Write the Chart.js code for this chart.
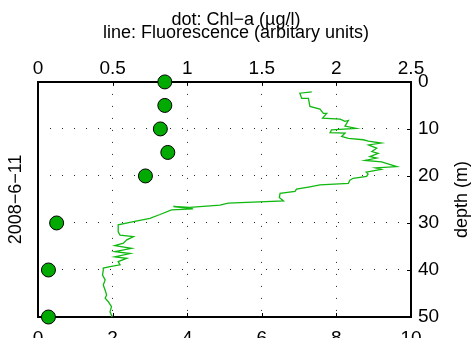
<!DOCTYPE html>
<html><head><meta charset="utf-8">
<script src="https://cdn.jsdelivr.net/npm/chart.js@4.4.1/dist/chart.umd.min.js"></script>
<style>html,body{margin:0;padding:0;background:#fff;}canvas{display:block;}</style>
</head><body>
<canvas id="c" width="472" height="338"></canvas>
<script>
const titleLines = ['dot: Chl\u2212a (\u00b5g/l)', 'line: Fluorescence (arbitary units)'];
const dateLabel = '2008\u22126\u221211';
const depthLabel = 'depth (m)';

const chlTicks = [0, 0.5, 1, 1.5, 2, 2.5];
const chlTickLabels = ['0', '0.5', '1', '1.5', '2', '2.5'];
const fluoTicks = [0, 2, 4, 6, 8, 10];
const depthTicks = [0, 10, 20, 30, 40, 50];

const chlDepth = [0, 5, 10, 15, 20, 30, 40, 50];
const chlValue = [0.85, 0.85, 0.82, 0.87, 0.72, 0.125, 0.07, 0.07];

const fluoDepth = [2.1, 2.4, 3.5, 3.5, 5.2, 5.8, 6.7, 6.7, 7.7, 7.9, 8.4, 8.2, 9.4, 9.9, 10.2, 10.8, 10.9, 11.6, 12.0, 12.3, 12.6, 13.0, 13.4, 14.1, 14.8, 15.2, 15.9, 16.2, 16.7, 17.0, 18.0, 18.3, 18.6, 19.2, 19.6, 20.1, 20.5, 20.9, 21.6, 21.9, 22.3, 22.8, 23.3, 23.7, 24.6, 25.3, 25.8, 26.2, 26.7, 26.5, 27.0, 27.2, 28.2, 29.0, 29.7, 30.4, 31.9, 32.6, 32.9, 33.6, 34.3, 34.8, 35.4, 36.1, 36.5, 37.2, 37.5, 38.2, 38.9, 39.3, 39.6, 40.0, 41.1, 42.1, 43.2, 44.3, 45.3, 46.0, 46.7, 47.8, 48.9, 49.6, 50.0];
const fluoValue = [7.34, 7.02, 7.07, 7.25, 7.29, 7.56, 7.65, 7.74, 7.63, 8.10, 8.23, 8.32, 8.23, 8.53, 7.87, 7.83, 8.23, 8.14, 8.32, 8.72, 8.86, 9.20, 8.86, 9.08, 8.95, 9.12, 8.90, 9.08, 8.77, 9.21, 9.62, 9.05, 9.20, 8.80, 8.85, 8.81, 8.45, 8.36, 8.32, 7.56, 7.29, 6.93, 6.89, 6.49, 6.47, 6.58, 5.10, 4.88, 4.07, 3.63, 4.16, 3.58, 3.27, 3.00, 2.56, 2.15, 2.15, 2.20, 2.56, 2.38, 2.29, 2.06, 2.51, 2.06, 2.47, 2.06, 2.38, 2.15, 2.20, 1.93, 1.75, 1.75, 1.73, 1.80, 1.75, 1.80, 1.84, 1.80, 1.88, 1.97, 1.93, 1.97, 1.98];

const FONT = '"Liberation Sans", Arial, Helvetica, sans-serif';
const tickFont = {family: FONT, size: 19};
const gridColor = (ctx) => {
  const v = ctx.tick && ctx.tick.value;
  const s = ctx.scale;
  return (v === s.min || v === s.max) ? 'rgba(0,0,0,0)' : 'rgba(0,0,0,0.85)';
};
const setTicks = (arr) => (s) => { s.ticks = arr.map(v => ({value: v})); };

const innerTicks = {
  id: 'innerTicks',
  afterDraw(chart) {
    const {ctx, chartArea: a, scales} = chart;
    const L = 4;
    ctx.save();
    ctx.strokeStyle = '#000';
    ctx.lineWidth = 1;
    ctx.beginPath();
    scales.x.ticks.forEach(t => {
      const px = Math.round(scales.x.getPixelForValue(t.value)) + 0.5;
      ctx.moveTo(px, a.bottom); ctx.lineTo(px, a.bottom - L);
    });
    scales.x2.ticks.forEach(t => {
      const px = Math.round(scales.x2.getPixelForValue(t.value)) + 0.5;
      ctx.moveTo(px, a.top); ctx.lineTo(px, a.top + L);
    });
    scales.y.ticks.forEach(t => {
      const py = Math.round(scales.y.getPixelForValue(t.value)) + 0.5;
      ctx.moveTo(a.right, py); ctx.lineTo(a.right - L, py);
    });
    ctx.stroke();
    ctx.translate(chart.width - 10, (a.top + a.bottom) / 2);
    ctx.rotate(-Math.PI / 2);
    ctx.font = '18px ' + FONT;
    ctx.textAlign = 'center';
    ctx.textBaseline = 'middle';
    ctx.fillStyle = '#000';
    ctx.fillText(depthLabel, 0, 0);
    ctx.restore();
  }
};

new Chart(document.getElementById('c'), {
  type: 'scatter',
  data: {
    datasets: [
      {
        label: 'Chl-a',
        data: chlDepth.map((d, i) => ({x: chlValue[i], y: d})),
        xAxisID: 'x2', yAxisID: 'y',
        pointRadius: 7, pointHoverRadius: 7,
        backgroundColor: '#00aa00', borderColor: '#000', borderWidth: 1,
        clip: false, showLine: false, order: 0
      },
      {
        label: 'Fluorescence',
        data: fluoDepth.map((d, i) => ({x: fluoValue[i], y: d})),
        xAxisID: 'x', yAxisID: 'y',
        showLine: true, pointRadius: 0, borderColor: '#10b810', borderWidth: 1.3,
        tension: 0, order: 1
      }
    ]
  },
  options: {
    responsive: false,
    animation: false,
    devicePixelRatio: 1,
    layout: {padding: 0},
    plugins: {
      legend: {display: false},
      tooltip: {enabled: false},
      title: {
        display: true,
        text: titleLines,
        color: '#000',
        font: {family: FONT, size: 18, weight: 'normal', lineHeight: 0.72},
        padding: {top: 14, bottom: 0}
      }
    },
    scales: {
      x: {
        type: 'linear', position: 'bottom', min: 0, max: 10,
        afterBuildTicks: setTicks(fluoTicks),
        ticks: {font: tickFont, color: '#000', padding: 10, autoSkip: false, maxRotation: 0},
        grid: {color: gridColor, lineWidth: 1, drawTicks: false},
        border: {color: '#000', width: 2, dash: [1, 11]},
        afterFit: s => { s.height = 21; }
      },
      x2: {
        type: 'linear', position: 'top', min: 0, max: 2.5,
        afterBuildTicks: setTicks(chlTicks),
        ticks: {font: tickFont, color: '#000', padding: 2, autoSkip: false, maxRotation: 0,
                callback: (v, i) => chlTickLabels[i]},
        grid: {display: false, drawTicks: false},
        border: {color: '#000', width: 2},
        afterFit: s => { s.height = 42; }
      },
      y: {
        type: 'linear', position: 'right', min: 0, max: 50, reverse: true,
        afterBuildTicks: setTicks(depthTicks),
        ticks: {font: tickFont, color: '#000', padding: 7, autoSkip: false},
        grid: {color: gridColor, lineWidth: 1, drawTicks: false},
        border: {color: '#000', width: 2, dash: [1, 11]},
        afterFit: s => { s.width = 61; }
      },
      yL: {
        type: 'linear', position: 'left', min: 0, max: 50, reverse: true,
        ticks: {display: false},
        grid: {display: false, drawTicks: false},
        border: {color: '#000', width: 2},
        title: {display: true, text: dateLabel, color: '#000', font: {family: FONT, size: 18}, padding: {top: 5, bottom: 0}},
        afterFit: s => { s.width = 38; }
      }
    }
  },
  plugins: [innerTicks]
});
</script>
</body></html>
